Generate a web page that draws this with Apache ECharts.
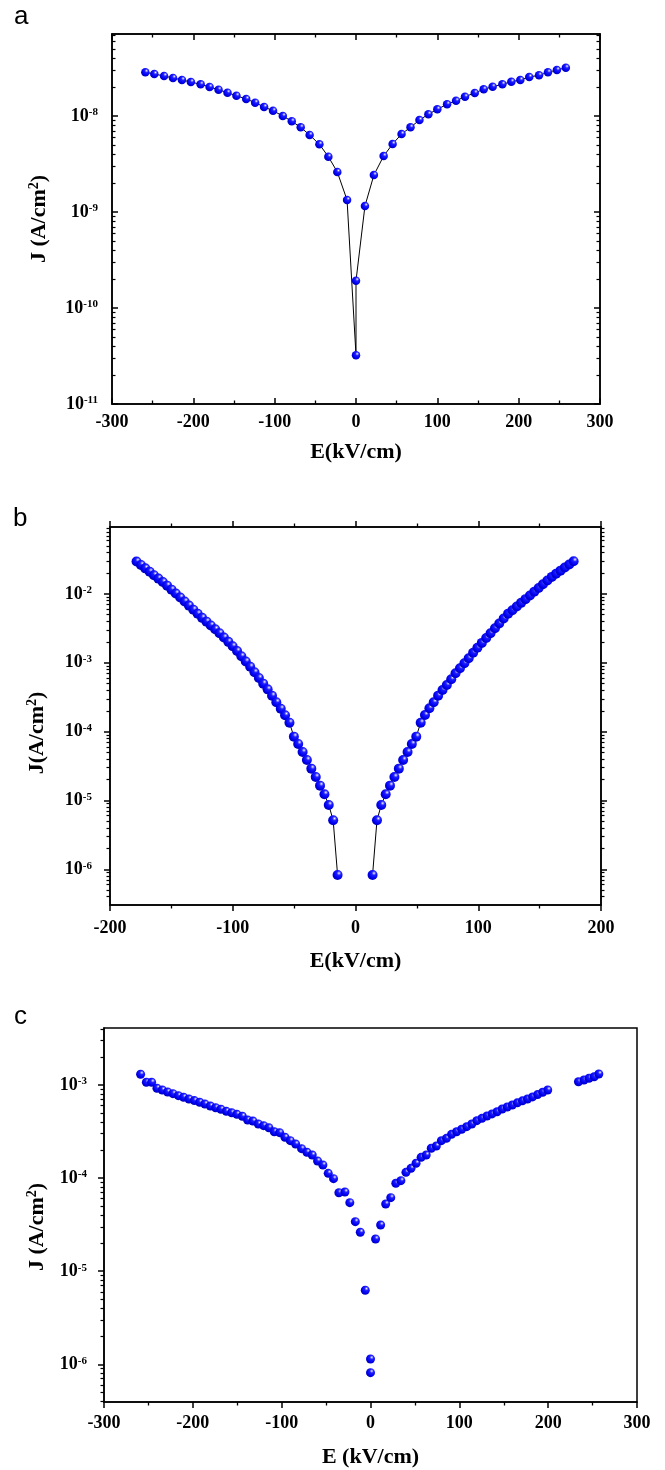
<!DOCTYPE html>
<html>
<head>
<meta charset="utf-8">
<script src="https://cdn.jsdelivr.net/npm/echarts@6/dist/echarts.min.js"></script>
<style>html,body{margin:0;padding:0;background:#fff}#chart{width:665px;height:1470px}</style>
</head>
<body>
<div id="chart"></div>
<script>
// ---------- Panel a : E (kV/cm) and log10 J (A/cm^2) ----------
const aE = [-259,-248,-236,-225,-214,-203,-191,-180,-169,-158,-147,-135,-124,-113,-102,-90,-79,-68,-57,-45,-34,-23,-11,
  0,0,
  11,22,34,45,56,67,78,89,100,112,123,134,146,157,168,180,191,202,213,225,236,247,258];
const aLog10J = [-7.545,-7.563,-7.583,-7.604,-7.625,-7.646,-7.670,-7.698,-7.726,-7.757,-7.789,-7.823,-7.861,-7.906,-7.945,-8.000,-8.055,-8.118,-8.198,-8.295,-8.424,-8.583,-8.875,
  -10.493,-9.716,
  -8.938,-8.615,-8.417,-8.292,-8.188,-8.118,-8.042,-7.982,-7.930,-7.878,-7.841,-7.799,-7.760,-7.722,-7.695,-7.670,-7.643,-7.625,-7.594,-7.576,-7.545,-7.521,-7.497];
const aXRange = [-300, 300];
const aYRange = [-11, -7.146];
const aYTicks = [-11, -10, -9, -8];

// ---------- Panel b ----------
const bELeft = [-178.4,-174.8,-171.3,-167.7,-164.2,-160.6,-157.0,-153.5,-149.9,-146.4,-142.8,-139.2,-135.7,-132.1,-128.6,-125.0,-121.4,-117.9,-114.3,-110.8,-107.2,-103.6,-100.1,-96.5,-93.0,-89.4,-85.8,-82.3,-78.7,-75.2,-71.6,-68.0,-64.5,-60.9,-57.4,-53.8,-50.2,-46.7,-43.1,-39.6,-36.0,-32.4,-28.9,-25.3,-21.8,-18.2,-14.6];
const bLog10JLeft = [-1.529,-1.578,-1.628,-1.678,-1.727,-1.777,-1.827,-1.879,-1.937,-1.994,-2.052,-2.110,-2.169,-2.228,-2.288,-2.347,-2.402,-2.457,-2.512,-2.570,-2.633,-2.696,-2.759,-2.829,-2.905,-2.981,-3.058,-3.138,-3.221,-3.303,-3.386,-3.479,-3.573,-3.667,-3.762,-3.870,-4.073,-4.179,-4.296,-4.412,-4.538,-4.659,-4.785,-4.910,-5.066,-5.288,-6.083];
const bERight = [13.9,17.5,21.0,24.6,28.1,31.7,35.3,38.8,42.4,45.9,49.5,53.1,56.6,60.2,63.7,67.3,70.9,74.4,78.0,81.5,85.1,88.7,92.2,95.8,99.3,102.9,106.5,110.0,113.6,117.1,120.7,124.3,127.8,131.4,134.9,138.5,142.1,145.6,149.2,152.7,156.3,159.9,163.4,167.0,170.5,174.1,177.7];
const bLog10JRight = [-6.083,-5.288,-5.066,-4.910,-4.785,-4.659,-4.538,-4.412,-4.296,-4.179,-4.073,-3.870,-3.758,-3.661,-3.574,-3.477,-3.395,-3.322,-3.240,-3.152,-3.080,-3.007,-2.934,-2.853,-2.782,-2.711,-2.640,-2.570,-2.499,-2.428,-2.357,-2.286,-2.237,-2.183,-2.129,-2.075,-2.021,-1.967,-1.913,-1.859,-1.805,-1.752,-1.707,-1.661,-1.616,-1.571,-1.525];
const bXRange = [-200, 200];
const bYRange = [-6.519, -1.027];
const bYTicks = [-6, -5, -4, -3, -2];

// ---------- Panel c ----------
const cE = [-258.8,-252.3,-246.4,-240.4,-234.4,-228.4,-222.4,-216.3,-210.4,-204.4,-198.3,-192.3,-186.4,-180.3,-174.3,-168.4,-162.3,-156.3,-150.4,-144.3,-138.3,-132.4,-126.3,-120.3,-114.4,-108.3,-102.3,-96.3,-90.3,-84.3,
  -77.6,-71.6,-65.6,-59.6,-53.6,-47.6,-41.6,-35.6,-28.8,-23.3,-17.1,-11.5,-5.9,
  0,0,
  5.7,11.4,17.1,22.8,28.5,34.2,39.9,45.6,51.3,57.0,62.7,68.4,74.1,79.8,85.5,91.2,96.9,102.6,108.3,114.0,119.7,125.4,131.1,136.8,142.5,148.2,153.9,159.6,165.3,171.0,176.7,182.4,188.1,193.8,199.5,
  234.1,240.3,246.0,251.8,257.0];
const cLog10J = [-2.885,-2.971,-2.971,-3.035,-3.054,-3.075,-3.093,-3.115,-3.132,-3.150,-3.168,-3.186,-3.204,-3.226,-3.244,-3.261,-3.283,-3.298,-3.315,-3.336,-3.376,-3.387,-3.419,-3.437,-3.459,-3.502,-3.512,-3.562,-3.598,-3.634,
  -3.684,-3.723,-3.752,-3.816,-3.859,-3.949,-4.006,-4.157,-4.149,-4.264,-4.468,-4.582,-5.205,
  -5.943,-6.090,
  -4.654,-4.504,-4.278,-4.210,-4.056,-4.028,-3.938,-3.895,-3.841,-3.777,-3.752,-3.680,-3.655,-3.598,-3.573,-3.530,-3.502,-3.476,-3.448,-3.419,-3.383,-3.358,-3.333,-3.311,-3.287,-3.258,-3.236,-3.215,-3.192,-3.170,-3.150,-3.128,-3.103,-3.078,-3.054,
  -2.965,-2.946,-2.928,-2.911,-2.882];
const cXRange = [-300, 300];
const cYRange = [-6.405, -2.388];
const cYTicks = [-6, -5, -4, -3];

// ---------- helpers ----------
const SERIF = '"Liberation Serif", "Times New Roman", serif';
const SANS = '"Liberation Sans", Arial, sans-serif';
const zip = (xs, ys) => xs.map((x, i) => [x, ys[i]]);
function minorLog(r) {
  const out = [];
  for (let d = Math.floor(r[0]); d <= Math.ceil(r[1]); d++) {
    for (let m = 2; m <= 9; m++) {
      const v = d + Math.log10(m);
      if (v > r[0] && v < r[1]) out.push(v);
    }
  }
  return out;
}
const TICK_RICH = {
  b: {fontFamily: SERIF, fontWeight: 'bold', fontSize: 18, lineHeight: 18, padding: [6, 0, 6, 0], color: '#000'},
  s: {fontFamily: SERIF, fontWeight: 'bold', fontSize: 11, lineHeight: 12, verticalAlign: 'top', color: '#000'}
};
const NAME_RICH = {
  t: {fontFamily: SERIF, fontWeight: 'bold', fontSize: 22, lineHeight: 24, color: '#000'},
  s: {fontFamily: SERIF, fontWeight: 'bold', fontSize: 14, lineHeight: 14, verticalAlign: 'top', color: '#000'}
};
const LINE = {show: true, onZero: false, lineStyle: {color: '#000', width: 1.5}};

function xAxisDef(gi, rng, o) {
  return {
    type: 'value', gridIndex: gi, position: o.pos, min: rng[0], max: rng[1], interval: 100,
    axisLine: LINE,
    axisTick: {show: true, inside: o.inside, length: 6, lineStyle: {color: '#000', width: 1.5}},
    minorTick: {show: true, splitNumber: 2, length: 3.5, lineStyle: {color: '#000', width: 1.3}},
    splitLine: {show: false}, minorSplitLine: {show: false},
    axisLabel: o.label ? {show: true, margin: o.margin, color: '#000', fontFamily: SERIF, fontWeight: 'bold', fontSize: 18} : {show: false},
    name: o.name || '', nameLocation: 'middle', nameGap: o.nameGap || 0,
    nameTextStyle: {color: '#000', fontFamily: SERIF, fontWeight: 'bold', fontSize: 22}
  };
}
function yAxisDef(gi, rng, o) {
  return {
    type: 'value', gridIndex: gi, position: o.pos, min: rng[0], max: rng[1],
    axisLine: o.line ? LINE : {show: false, onZero: false},
    axisTick: {show: true, inside: o.inside, length: o.len, customValues: o.ticks, lineStyle: {color: '#000', width: o.w}},
    splitLine: {show: false},
    axisLabel: o.label ? {show: true, customValues: o.ticks, margin: o.margin,
      formatter: v => '{b|10}{s|' + Math.round(v) + '}', rich: TICK_RICH} : {show: false},
    name: o.name || '', nameLocation: 'middle', nameGap: o.nameGap || 0, nameRotate: 90,
    nameTextStyle: {rich: NAME_RICH, padding: o.namePad || 0}
  };
}
function yAxesFor(gi, rng, majors, inside, mirror, lab) {
  const minors = minorLog(rng);
  const list = [
    yAxisDef(gi, rng, Object.assign({pos: 'left', line: true, inside, len: 6, w: 1.5, ticks: majors, label: true}, lab)),
    yAxisDef(gi, rng, {pos: 'left', line: false, inside, len: 3.5, w: 1.2, ticks: minors})
  ];
  if (mirror) {
    list.push(yAxisDef(gi, rng, {pos: 'right', line: true, inside, len: 6, w: 1.5, ticks: majors}));
    list.push(yAxisDef(gi, rng, {pos: 'right', line: false, inside, len: 3.5, w: 1.2, ticks: minors}));
  }
  return list;
}

const BALL = {
  type: 'radial', x: 0.64, y: 0.32, r: 0.68,
  colorStops: [
    {offset: 0, color: '#ffffff'},
    {offset: 0.12, color: '#9a9aff'},
    {offset: 0.32, color: '#1e1eff'},
    {offset: 0.75, color: '#0000f0'},
    {offset: 1, color: '#0000c0'}
  ]
};

const yAxes = [].concat(
  yAxesFor(0, aYRange, aYTicks, true, true, {margin: 14, name: '{t|J (A/cm}{s|2}{t|)}', nameGap: 61}),
  yAxesFor(1, bYRange, bYTicks, false, true, {margin: 18, name: '{t|J(A/cm}{s|2}{t|)}', nameGap: 61, namePad: [0, 34, 0, 0]}),
  yAxesFor(2, cYRange, cYTicks, false, false, {margin: 17, name: '{t|J (A/cm}{s|2}{t|)}', nameGap: 55, namePad: [0, 24, 0, 0]})
);
// y axis indices: panel a 0..3, panel b 4..7, panel c 8..9

const option = {
  animation: false,
  backgroundColor: '#fff',
  textStyle: {fontFamily: SERIF},
  grid: [
    {left: 112, top: 34, width: 488, height: 370, show: true, borderColor: '#000', borderWidth: 1.5},
    {left: 110, top: 527, width: 491, height: 378, show: true, borderColor: '#000', borderWidth: 1.5},
    {left: 104, top: 1028, width: 533, height: 374, show: true, borderColor: '#000', borderWidth: 1.5}
  ],
  xAxis: [
    xAxisDef(0, aXRange, {pos: 'bottom', inside: true, label: true, margin: 9, name: 'E(kV/cm)', nameGap: 37}),
    xAxisDef(0, aXRange, {pos: 'top', inside: true, label: false}),
    xAxisDef(1, bXRange, {pos: 'bottom', inside: false, label: true, margin: 14, name: 'E(kV/cm)', nameGap: 45}),
    xAxisDef(1, bXRange, {pos: 'top', inside: false, label: false}),
    xAxisDef(2, cXRange, {pos: 'bottom', inside: false, label: true, margin: 12, name: 'E (kV/cm)', nameGap: 44})
  ],
  yAxis: yAxes,
  graphic: [
    {type: 'text', x: 14, y: 17, style: {text: 'a', fontFamily: SANS, fontSize: 26, fill: '#000', verticalAlign: 'middle'}},
    {type: 'text', x: 13, y: 519, style: {text: 'b', fontFamily: SANS, fontSize: 26, fill: '#000', verticalAlign: 'middle'}},
    {type: 'text', x: 14, y: 1017, style: {text: 'c', fontFamily: SANS, fontSize: 26, fill: '#000', verticalAlign: 'middle'}}
  ],
  series: [
    {type: 'line', xAxisIndex: 0, yAxisIndex: 0, data: zip(aE, aLog10J), symbol: 'circle', symbolSize: 8.5,
      lineStyle: {color: '#000', width: 1}, itemStyle: {color: BALL}},
    {type: 'line', xAxisIndex: 2, yAxisIndex: 4, data: zip(bELeft, bLog10JLeft), symbol: 'circle', symbolSize: 10,
      lineStyle: {color: '#000', width: 1}, itemStyle: {color: BALL}},
    {type: 'line', xAxisIndex: 2, yAxisIndex: 4, data: zip(bERight, bLog10JRight), symbol: 'circle', symbolSize: 10,
      lineStyle: {color: '#000', width: 1}, itemStyle: {color: BALL}},
    {type: 'scatter', xAxisIndex: 4, yAxisIndex: 8, data: zip(cE, cLog10J), symbol: 'circle', symbolSize: 9,
      itemStyle: {color: BALL, opacity: 1}}
  ]
};

const chart = echarts.init(document.getElementById('chart'), null, {renderer: 'canvas'});
chart.setOption(option);
</script>
</body>
</html>
